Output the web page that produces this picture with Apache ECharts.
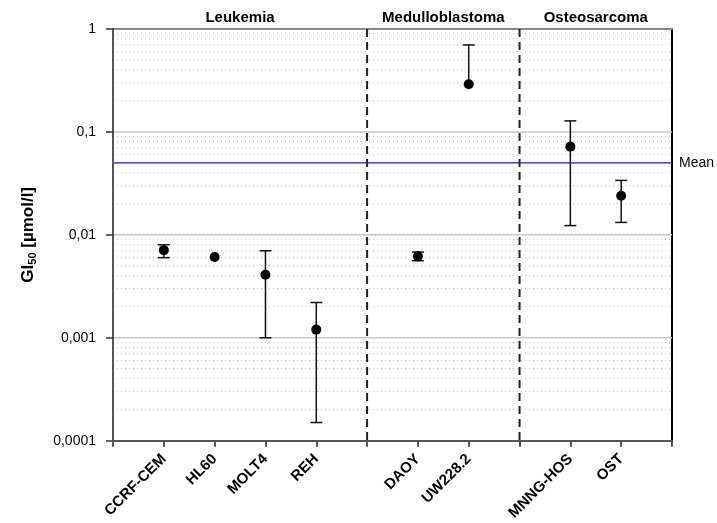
<!DOCTYPE html>
<html>
<head>
<meta charset="utf-8">
<script src="https://cdn.jsdelivr.net/npm/echarts@6/dist/echarts.min.js"></script>
<style>
  html, body { margin: 0; padding: 0; background: #fff; }
  #chart { width: 717px; height: 523px; }
</style>
</head>
<body>
<div id="chart"></div>
<script>
// Cell lines on the x axis; empty slots separate the tumour groups
const cellLines = ['', 'CCRF-CEM', 'HL60', 'MOLT4', 'REH', '', 'DAOY', 'UW228.2', '', 'MNNG-HOS', 'OST', ''];
// GI50 values (µmol/l) per cell line, with lower / upper error limits
const gi50Lines = ['CCRF-CEM', 'HL60', 'MOLT4', 'REH', 'DAOY', 'UW228.2', 'MNNG-HOS', 'OST'];
const gi50Values = [0.0071, 0.0061, 0.0041, 0.0012, 0.0062, 0.29, 0.072, 0.024];
const gi50Low    = [0.0060, 0.0061, 0.0010, 0.00015, 0.0056, 0.29, 0.0123, 0.0132];
const gi50High   = [0.0080, 0.0061, 0.0070, 0.0022, 0.0068, 0.70, 0.128, 0.0338];
// Tumour groups: name, first and last slot index on the x axis
const groupNames = ['Leukemia', 'Medulloblastoma', 'Osteosarcoma'];
const groupStart = [0, 5, 8];
const groupEnd   = [5, 8, 11];
// Group separators (slot indices)
const separators = [5, 8];
// Mean GI50 across all lines
const meanValue = 0.05;
// Y axis range and decade tick labels
const yMin = 0.0001, yMax = 1;
const yTickLabels = { '0.0001': '0,0001', '0.001': '0,001', '0.01': '0,01', '0.1': '0,1', '1': '1' };

// Minor dotted gridlines at 2..9 within each decade, solid ones at the decades
const minorGrid = [];
for (let d = -4; d < 0; d++) {
  for (let m = 2; m <= 9; m++) minorGrid.push(m * Math.pow(10, d));
}
const majorGrid = [0.001, 0.01, 0.1];

const FONT = 'Liberation Sans, Arial, sans-serif';
const chart = echarts.init(document.getElementById('chart'), null, { renderer: 'canvas' });

const pointData = gi50Lines.map((n, i) => [n, gi50Values[i]]);
const errData = gi50Lines.map((n, i) => [n, gi50Low[i], gi50High[i], gi50Values[i]]);

// horizontal line across the plot at a given y value
function hLine(style) {
  return (params, api) => {
    const cs = params.coordSys;
    const y = api.coord([0, api.value(1)])[1];
    return { type: 'line', shape: { x1: cs.x, y1: y, x2: cs.x + cs.width, y2: y }, style };
  };
}

const option = {
  animation: false,
  textStyle: { fontFamily: FONT },
  grid: { left: 113, right: 45, top: 29, bottom: 81 },
  xAxis: [{
    type: 'category',
    data: cellLines,
    boundaryGap: false,
    axisLine: { lineStyle: { color: '#555', width: 2 } },
    axisTick: { show: true, interval: 0, length: 6, lineStyle: { color: '#555', width: 2 } },
    axisLabel: {
      interval: 0, rotate: 45, color: '#000', fontWeight: 'bold', fontSize: 15, margin: 16, fontFamily: FONT
    },
    splitLine: { show: false },
    z: 5
  }, {
    type: 'category',
    data: cellLines,
    boundaryGap: false,
    position: 'top',
    axisLine: { lineStyle: { color: '#8a8a8a', width: 2 } },
    axisTick: { show: false },
    axisLabel: { show: false }
  }],
  yAxis: [{
    type: 'log',
    logBase: 10,
    min: yMin,
    max: yMax,
    axisLine: { show: true, lineStyle: { color: '#555', width: 2 } },
    axisTick: { show: true, length: 7, lineStyle: { color: '#333', width: 1.5 } },
    axisLabel: {
      color: '#000', fontSize: 14, margin: 17, fontFamily: FONT,
      formatter: v => yTickLabels[String(Number(v.toPrecision(1)))] || ''
    },
    splitLine: { show: false },
    name: '{a|GI}{b|50}{a| [µmol/l]}',
    nameLocation: 'middle',
    nameRotate: 90,
    nameGap: 75,
    nameTextStyle: {
      rich: {
        a: { fontSize: 17, fontWeight: 'bold', color: '#000', fontFamily: FONT },
        b: { fontSize: 11, fontWeight: 'bold', color: '#000', verticalAlign: 'bottom', padding: [8, 0, 0, 0], fontFamily: FONT }
      }
    },
    z: 5
  }, {
    type: 'log',
    logBase: 10,
    min: yMin,
    max: yMax,
    position: 'right',
    axisLine: { show: true, lineStyle: { color: '#000', width: 2 } },
    axisTick: { show: false },
    axisLabel: { show: false },
    splitLine: { show: false }
  }],
  series: [
    {
      // minor dotted gridlines
      type: 'custom',
      silent: true,
      z: 1,
      data: minorGrid.map(v => [0, v]),
      renderItem: hLine({ stroke: '#bdbdbd', lineWidth: 1, lineDash: [1, 3] })
    },
    {
      // decade gridlines
      type: 'custom',
      silent: true,
      z: 1,
      data: majorGrid.map(v => [0, v]),
      renderItem: hLine({ stroke: '#c8c8c8', lineWidth: 1.5 })
    },
    {
      // mean line with its label
      type: 'custom',
      silent: true,
      z: 2,
      data: [[0, meanValue]],
      renderItem: (params, api) => {
        const cs = params.coordSys;
        const y = api.coord([0, api.value(1)])[1];
        return {
          type: 'group',
          children: [
            { type: 'line', shape: { x1: cs.x, y1: y, x2: cs.x + cs.width, y2: y }, style: { stroke: '#1e1eb4', lineWidth: 1.3 } },
            { type: 'text', x: cs.x + cs.width + 7, y: y, style: { text: 'Mean', fill: '#000', font: '14px ' + FONT, textVerticalAlign: 'middle', verticalAlign: 'middle' } }
          ]
        };
      }
    },
    {
      // dashed separators between tumour groups
      type: 'custom',
      silent: true,
      z: 2,
      data: separators.map(i => [i, yMax]),
      renderItem: (params, api) => {
        const cs = params.coordSys;
        const x = api.coord([api.value(0), yMax])[0];
        return { type: 'line', shape: { x1: x, y1: cs.y, x2: x, y2: cs.y + cs.height }, style: { stroke: '#222', lineWidth: 2, lineDash: [8, 5] } };
      }
    },
    {
      // group headers above the plot
      type: 'line',
      data: [],
      silent: true,
      markArea: {
        silent: true,
        itemStyle: { color: 'rgba(0,0,0,0)' },
        label: { show: true, position: 'top', color: '#000', fontWeight: 'bold', fontSize: 15, distance: 4, fontFamily: FONT },
        data: groupNames.map((n, i) => [
          { name: n, xAxis: groupStart[i], yAxis: yMax },
          { xAxis: groupEnd[i], yAxis: yMin }
        ])
      }
    },
    {
      // error bars
      type: 'custom',
      data: errData,
      z: 3,
      renderItem: (params, api) => {
        const x = api.value(0);
        const lo = api.coord([x, api.value(1)]);
        const hi = api.coord([x, api.value(2)]);
        const mid = api.coord([x, api.value(3)]);
        const w = 6;
        const style = { stroke: '#111', lineWidth: 1.5 };
        const children = [];
        if (Math.abs(lo[1] - hi[1]) < 0.5) return { type: 'group', children };
        children.push({ type: 'line', shape: { x1: lo[0], y1: lo[1], x2: hi[0], y2: hi[1] }, style });
        children.push({ type: 'line', shape: { x1: hi[0] - w, y1: hi[1], x2: hi[0] + w, y2: hi[1] }, style });
        if (Math.abs(lo[1] - mid[1]) > 0.5) {
          children.push({ type: 'line', shape: { x1: lo[0] - w, y1: lo[1], x2: lo[0] + w, y2: lo[1] }, style });
        }
        return { type: 'group', children };
      },
      encode: { x: 0, y: [1, 2] }
    },
    {
      // GI50 points
      type: 'scatter',
      data: pointData,
      symbol: 'circle',
      symbolSize: 10,
      z: 4,
      itemStyle: { color: '#000', opacity: 1 }
    }
  ]
};

chart.setOption(option);
</script>
</body>
</html>
